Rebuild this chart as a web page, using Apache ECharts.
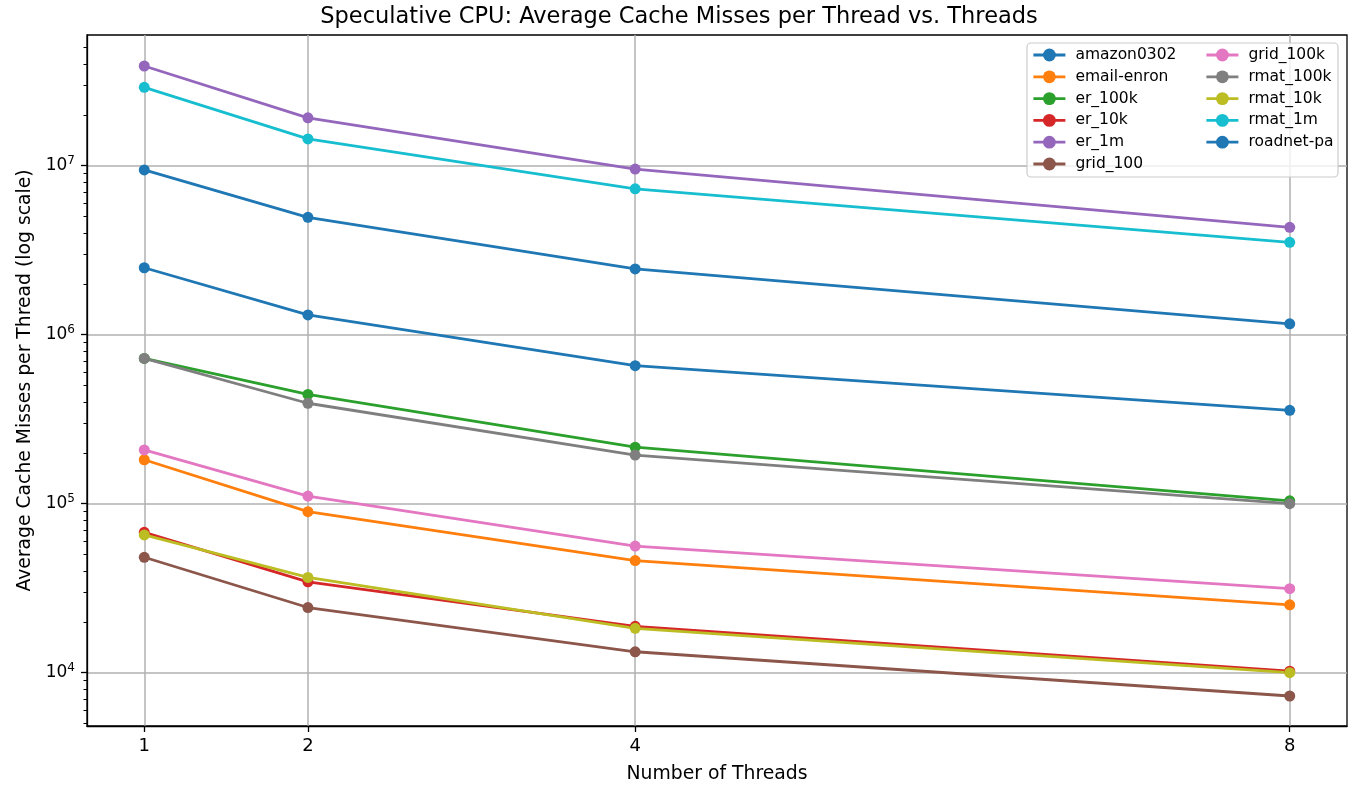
<!DOCTYPE html>
<html>
<head>
<meta charset="utf-8">
<script src="https://cdn.jsdelivr.net/npm/echarts@6/dist/echarts.min.js"></script>
<style>
html,body{margin:0;padding:0;background:#fff;}
#chart{width:1358px;height:790px;}
</style>
</head>
<body>
<div id="chart"></div>
<script>
// ---- data ----
const threads = [1, 2, 4, 8];
const seriesNames = ['amazon0302','email-enron','er_100k','er_10k','er_1m','grid_100','grid_100k','rmat_100k','rmat_10k','rmat_1m','roadnet-pa'];
const amazon0302 = [2.49e6, 1.31e6, 6.56e5, 3.57e5];
const emailEnron = [1.82e5, 8.97e4, 4.61e4, 2.52e4];
const er100k = [7.24e5, 4.43e5, 2.16e5, 1.04e5];
const er10k = [6.77e4, 3.45e4, 1.88e4, 1.02e4];
const er1m = [3.89e7, 1.92e7, 9.55e6, 4.32e6];
const grid100 = [4.82e4, 2.43e4, 1.33e4, 7.28e3];
const grid100k = [2.08e5, 1.11e5, 5.61e4, 3.14e4];
const rmat100k = [7.24e5, 3.93e5, 1.94e5, 1.0e5];
const rmat10k = [6.53e4, 3.66e4, 1.83e4, 1.0e4];
const rmat1m = [2.91e7, 1.44e7, 7.30e6, 3.52e6];
const roadnetPa = [9.44e6, 4.95e6, 2.45e6, 1.16e6];
const seriesValues = [amazon0302, emailEnron, er100k, er10k, er1m, grid100, grid100k, rmat100k, rmat10k, rmat1m, roadnetPa];
const colors = ['#1f77b4','#ff7f0e','#2ca02c','#d62728','#9467bd','#8c564b','#e377c2','#7f7f7f','#bcbd22','#17becf','#1f77b4'];
const xTicks = [1, 2, 4, 8];
const yMajorExponents = [4, 5, 6, 7];
const minorMantissas = [2, 3, 4, 5, 6, 7, 8, 9];
const minorDecades = [3, 4, 5, 6, 7];

// ---- axis ranges (log10 space for y) ----
const xMin = 0.65, xMax = 8.35;
const yMin = 3.6846, yMax = 7.7734;

const minorTicks = [];
minorDecades.forEach(d => minorMantissas.forEach(m => {
  const v = Math.log10(m) + d;
  if (v >= yMin && v <= yMax) minorTicks.push(v);
}));

const FONT = 'DejaVu Sans';
const chart = echarts.init(document.getElementById('chart'), null, {renderer: 'canvas'});

const series = seriesNames.map((name, i) => ({
  name: name,
  type: 'line',
  xAxisIndex: 0,
  yAxisIndex: 0,
  data: threads.map((t, j) => [t, Math.log10(seriesValues[i][j])]),
  symbol: 'circle',
  symbolSize: 11,
  lineStyle: {width: 2.8, color: colors[i]},
  itemStyle: {color: colors[i]},
  emphasis: {disabled: true},
  z: 3
}));

const legendCommon = {
  orient: 'vertical',
  top: 42,
  itemWidth: 32,
  itemHeight: 16,
  itemGap: 5.8,
  textStyle: {fontFamily: FONT, fontSize: 15.5, color: '#000', padding: [0, 0, 0, 5]},
  lineStyle: {width: 2.8},
  selectedMode: false,
  z: 10
};

chart.setOption({
  animation: false,
  backgroundColor: '#fff',
  title: {
    text: 'Speculative CPU: Average Cache Misses per Thread vs. Threads',
    left: 'center',
    top: 0,
    padding: [6, 0, 0, 76],
    textStyle: {fontFamily: FONT, fontSize: 22.5, fontWeight: 'normal', color: '#000'}
  },
  grid: {
    left: 87, right: 11, top: 35, bottom: 64,
    show: true, borderColor: '#000', borderWidth: 1.3, backgroundColor: '#fff'
  },
  graphic: [{
    type: 'rect',
    shape: {x: 1027, y: 43, width: 311, height: 134, r: 4},
    style: {fill: 'rgba(255,255,255,0.8)', stroke: '#cccccc', lineWidth: 1.2},
    z: 5
  }],
  legend: [
    Object.assign({}, legendCommon, {left: 1027, data: seriesNames.slice(0, 6)}),
    Object.assign({}, legendCommon, {left: 1200, data: seriesNames.slice(6)})
  ],
  xAxis: [{
    type: 'value',
    min: xMin, max: xMax,
    name: 'Number of Threads',
    nameLocation: 'middle',
    nameGap: 39,
    nameTextStyle: {fontFamily: FONT, fontSize: 18.8, color: '#000'},
    axisLine: {show: true, lineStyle: {color: '#000', width: 1.3}},
    axisTick: {show: true, customValues: xTicks, length: 6, lineStyle: {color: '#000', width: 1.3}},
    axisLabel: {customValues: xTicks, fontFamily: FONT, fontSize: 18, color: '#000', margin: 11},
    splitLine: {show: true, lineStyle: {color: '#b0b0b0', width: 1.5}}
  }],
  yAxis: [{
    type: 'value',
    min: yMin, max: yMax,
    name: 'Average Cache Misses per Thread (log scale)',
    nameLocation: 'middle',
    nameGap: 51,
    nameTextStyle: {fontFamily: FONT, fontSize: 18.8, color: '#000'},
    axisLine: {show: true, lineStyle: {color: '#000', width: 1.3}},
    axisTick: {show: true, customValues: yMajorExponents, length: 6, lineStyle: {color: '#000', width: 1.3}},
    axisLabel: {
      customValues: yMajorExponents,
      margin: 12,
      formatter: v => '{b|10}{s|' + Math.round(v) + '}',
      rich: {
        b: {fontFamily: FONT, fontSize: 17, color: '#000'},
        s: {fontFamily: FONT, fontSize: 12, color: '#000', padding: [0, 0, 10, 0]}
      }
    },
    splitLine: {show: true, lineStyle: {color: '#b0b0b0', width: 1.5}}
  }, {
    type: 'value',
    min: yMin, max: yMax,
    position: 'left',
    axisLine: {show: false},
    axisTick: {show: true, customValues: minorTicks, length: 3.5, lineStyle: {color: '#000', width: 1}},
    axisLabel: {show: false},
    splitLine: {show: false}
  }],
  series: series
});
</script>
</body>
</html>
